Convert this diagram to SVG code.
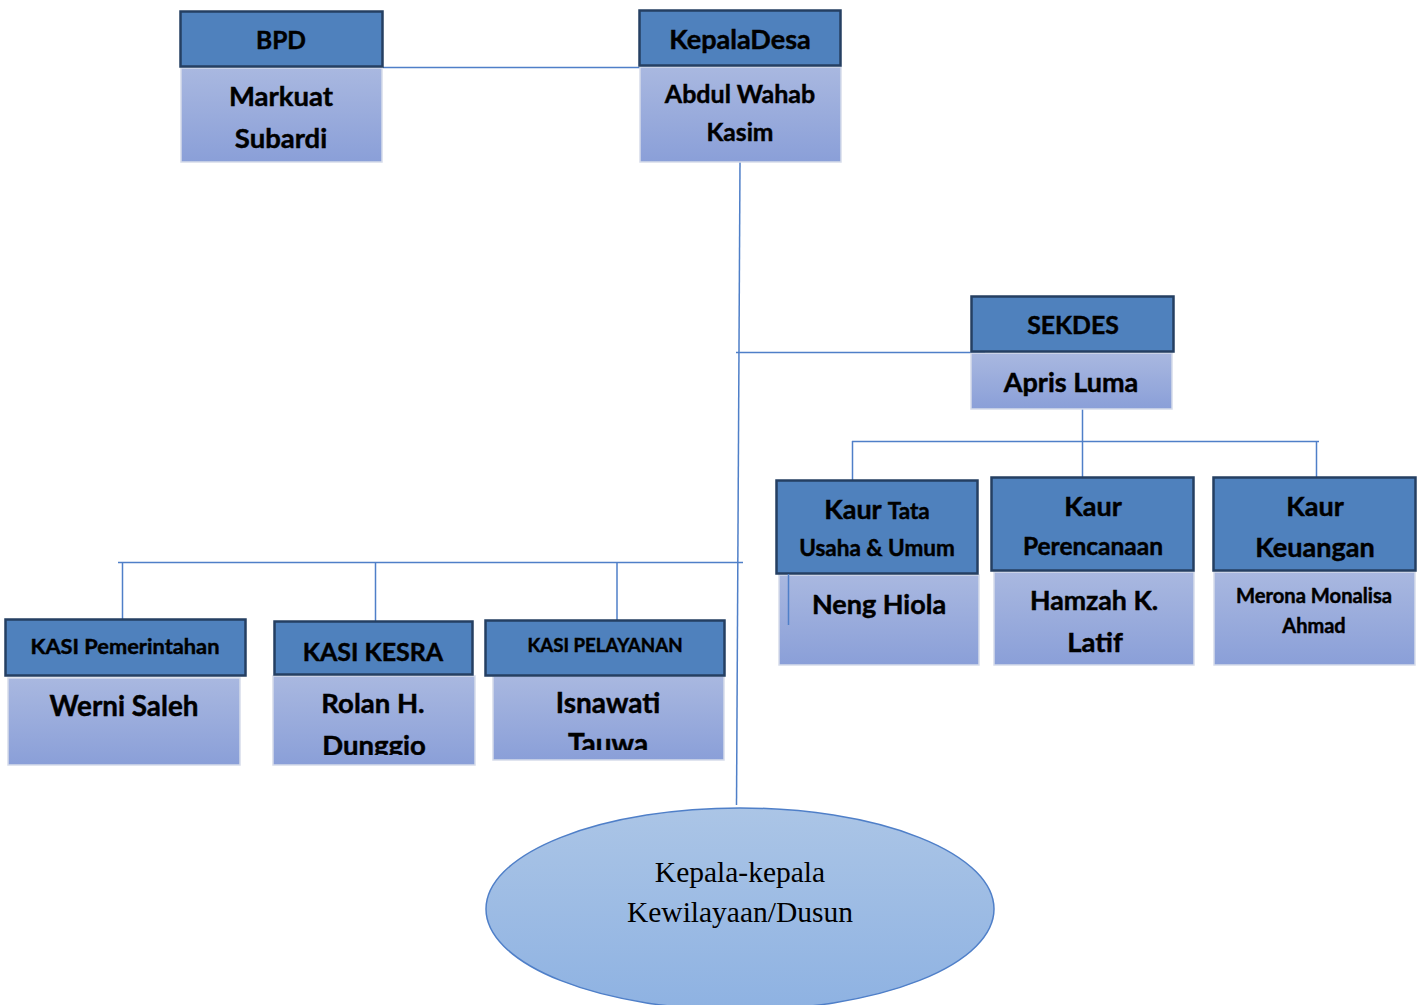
<svg xmlns="http://www.w3.org/2000/svg" width="1419" height="1005" viewBox="0 0 1419 1005">
<defs>
<linearGradient id="body" x1="0" y1="0" x2="0" y2="1">
<stop offset="0" stop-color="#A9B8E0"/>
<stop offset="1" stop-color="#8A9FD8"/>
</linearGradient>
<linearGradient id="ell" x1="0" y1="0" x2="0" y2="1">
<stop offset="0" stop-color="#ABC5E6"/>
<stop offset="1" stop-color="#8EB2E2"/>
</linearGradient>
<clipPath id="c-kesra"><rect x="273" y="676" width="202" height="79"/></clipPath>
<clipPath id="c-pel"><rect x="493" y="676" width="231" height="74"/></clipPath>
</defs>
<style>
.hd{fill:#4F81BD;stroke:#253F62;stroke-width:2.5}
.bd{fill:url(#body);stroke:#D6DCEA;stroke-width:1.5}
.t{font-family:Lato,"Open Sans","Liberation Sans",sans-serif;font-weight:bold;fill:#000;stroke:#000;stroke-width:0.45;text-anchor:middle}
.ln{stroke:#4F7FC8;stroke-width:1.5;fill:none}
.ser{font-family:"Liberation Serif","Times New Roman",serif;fill:#000;text-anchor:middle;font-size:29.5px}
</style>
<rect width="1419" height="1005" fill="#fff"/>

<g id="connectors">
<line class="ln" x1="383" y1="67.5" x2="650" y2="67.5"/>
<line class="ln" x1="740" y1="162" x2="736.5" y2="805"/>
<line class="ln" x1="736" y1="352.5" x2="985" y2="352.5"/>
<line class="ln" x1="1082.5" y1="409" x2="1082.5" y2="477"/>
<line class="ln" x1="852" y1="441.5" x2="1319" y2="441.5"/>
<line class="ln" x1="852.5" y1="441" x2="852.5" y2="480"/>
<line class="ln" x1="1316.5" y1="441" x2="1316.5" y2="477"/>
<line class="ln" x1="118" y1="562.5" x2="743" y2="562.5"/>
<line class="ln" x1="122.5" y1="562" x2="122.5" y2="620"/>
<line class="ln" x1="375.5" y1="562" x2="375.5" y2="621"/>
<line class="ln" x1="617" y1="562" x2="617" y2="620"/>
</g>

<g id="bpd">
<rect class="bd" x="181" y="68" width="201" height="94"/>
<rect class="hd" x="180.5" y="11.5" width="202" height="55"/>
<text class="t" x="281" y="49" font-size="24.5">BPD</text>
<text class="t" x="281" y="106" font-size="27.5">Markuat</text>
<text class="t" x="281" y="148" font-size="27.5">Subardi</text>
</g>

<g id="kepaladesa">
<rect class="bd" x="640" y="67" width="201" height="95"/>
<rect class="hd" x="639.5" y="10.5" width="201" height="55"/>
<text class="t" x="740" y="49" font-size="27">KepalaDesa</text>
<text class="t" x="740" y="103" font-size="25">Abdul Wahab</text>
<text class="t" x="740" y="141" font-size="24.6">Kasim</text>
</g>

<g id="sekdes">
<rect class="bd" x="971" y="353" width="201" height="56"/>
<rect class="hd" x="971.5" y="296.5" width="202" height="55"/>
<text class="t" x="1073" y="334" font-size="24.8">SEKDES</text>
<text class="t" x="1071" y="392" font-size="27">Apris Luma</text>
</g>

<g id="kaur-tata">
<rect class="bd" x="779" y="575" width="200" height="90"/>
<rect class="hd" x="776.5" y="480.5" width="201" height="93"/>
<text class="t" x="877" y="519" font-size="27">Kaur <tspan font-size="22.5">Tata</tspan></text>
<text class="t" x="877" y="556" font-size="22.5">Usaha &amp; Umum</text>
<line class="ln" x1="788.5" y1="574" x2="788.5" y2="625"/>
<text class="t" x="879" y="614" font-size="27">Neng Hiola</text>
</g>

<g id="kaur-perencanaan">
<rect class="bd" x="994" y="572" width="200" height="93"/>
<rect class="hd" x="991.5" y="477.5" width="202" height="93"/>
<text class="t" x="1093" y="516" font-size="27">Kaur</text>
<text class="t" x="1093" y="555" font-size="24.5">Perencanaan</text>
<text class="t" x="1094" y="610" font-size="26.7">Hamzah K.</text>
<text class="t" x="1095" y="652" font-size="27.5">Latif</text>
</g>

<g id="kaur-keuangan">
<rect class="bd" x="1214" y="572" width="201" height="93"/>
<rect class="hd" x="1213.5" y="477.5" width="202" height="93"/>
<text class="t" x="1315" y="516" font-size="27">Kaur</text>
<text class="t" x="1315" y="557" font-size="27">Keuangan</text>
<text class="t" x="1314" y="603" font-size="20.2">Merona Monalisa</text>
<text class="t" x="1314" y="633" font-size="20">Ahmad</text>
</g>

<g id="kasi-pemerintahan">
<rect class="bd" x="8" y="678" width="232" height="87"/>
<rect class="hd" x="5.5" y="619.5" width="240" height="56"/>
<text class="t" x="125" y="654" font-size="21.8">KASI Pemerintahan</text>
<text class="t" x="124" y="716" font-size="27.8">Werni Saleh</text>
</g>

<g id="kasi-kesra">
<rect class="bd" x="273" y="676" width="202" height="89"/>
<rect class="hd" x="274.5" y="621.5" width="198" height="53"/>
<text class="t" x="373" y="661" font-size="25">KASI KESRA</text>
<g clip-path="url(#c-kesra)">
<text class="t" x="373" y="713" font-size="27.5">Rolan H.</text>
<text class="t" x="374" y="755" font-size="27.5">Dunggio</text>
</g>
</g>

<g id="kasi-pelayanan">
<rect class="bd" x="493" y="676" width="231" height="84"/>
<rect class="hd" x="485.5" y="620.5" width="239" height="55"/>
<text class="t" x="605" y="652" font-size="18.7">KASI PELAYANAN</text>
<g clip-path="url(#c-pel)">
<text class="t" x="608" y="713" font-size="28">Isnawati</text>
<text class="t" x="608" y="754" font-size="28">Tauwa</text>
</g>
</g>

<g id="kepala-dusun">
<ellipse cx="740" cy="909" rx="254" ry="101" fill="url(#ell)" stroke="#4F7FC8" stroke-width="1.5"/>
<text class="ser" x="740" y="882">Kepala-kepala</text>
<text class="ser" x="740" y="922">Kewilayaan/Dusun</text>
</g>
</svg>
